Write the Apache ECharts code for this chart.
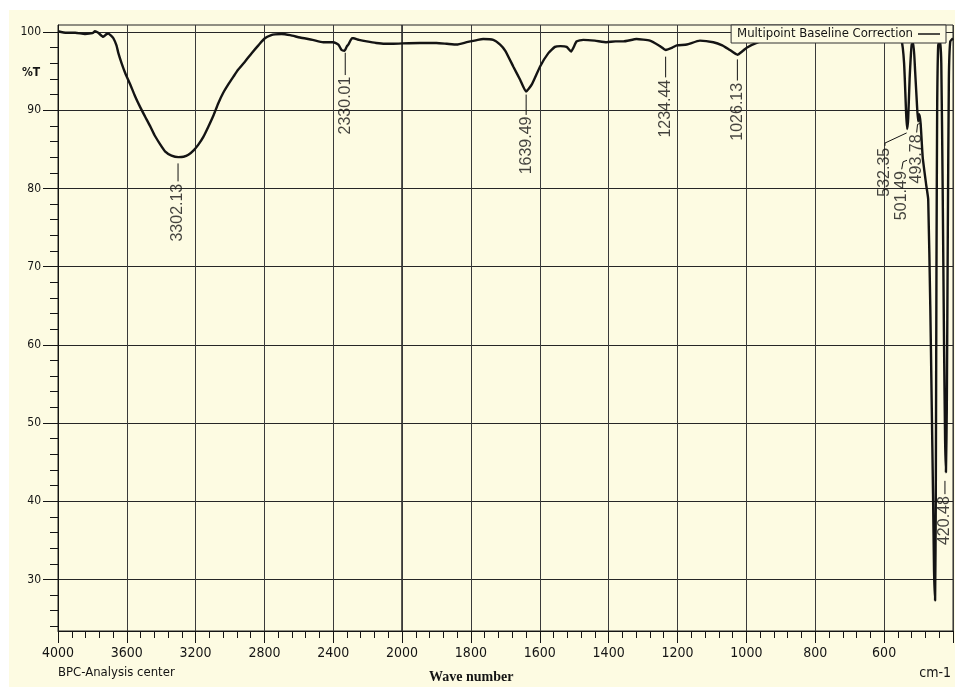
<!DOCTYPE html>
<html>
<head>
<meta charset="utf-8">
<title>FTIR spectrum</title>
<script src="https://cdn.jsdelivr.net/npm/echarts@6/dist/echarts.min.js"></script>
<style>
	html, body { margin: 0; padding: 0; background: #fff; }
	#chart { position: absolute; left: 9px; top: 10px; width: 946px; height: 677px; background: #fdfbe2; }
</style>
</head>
<body>
<div id="chart"></div>
<script>
	// wave number (cm-1), descending
	const waveNumbers = [
		4000, 3950, 3900, 3843, 3800, 3785, 3766, 3737, 3720, 3708, 3690, 3678, 3660, 3649, 3630, 3610,
		3580, 3552, 3520, 3494, 3465, 3436, 3405, 3378, 3340, 3300, 3270, 3242, 3210, 3184, 3155, 3126,
		3095, 3068, 3040, 3010, 2980, 2952, 2910, 2874, 2835, 2797, 2760, 2738, 2700, 2650, 2593, 2520,
		2458, 2400, 2370, 2351, 2335, 2320, 2312, 2290, 2283, 2250, 2205, 2150, 2100, 2050, 2000,
		1948, 1900, 1870, 1841, 1812, 1780, 1764, 1735, 1715, 1700, 1677, 1657, 1640, 1623, 1599, 1575,
		1556, 1540, 1522, 1509, 1493, 1474, 1440, 1406, 1380, 1357, 1319, 1280, 1251, 1234, 1215, 1202,
		1173, 1135, 1096, 1070, 1048, 1026, 1010, 999, 965, 940, 900, 800, 700, 620, 570, 550,
		542, 536, 533, 530, 526, 520, 515, 510, 505, 501.5, 498, 494, 488, 478, 472, 466,
		462, 458, 455, 452, 450, 448, 446, 443, 438, 434, 430, 426, 423, 420.5, 418, 415,
		412, 408, 400
	]
	// %T
	const transmittance = [
		100.1, 99.9, 99.9, 99.75, 99.85, 100.1, 99.9, 99.4, 99.7, 99.8, 99.5, 99.2, 98.3, 97.3, 96.0, 94.8,
		93.3, 91.8, 90.3, 89.2, 88.0, 86.7, 85.6, 84.75, 84.2, 84.0, 84.05, 84.3, 84.9, 85.6, 86.6, 87.9,
		89.4, 90.9, 92.2, 93.3, 94.3, 95.2, 96.3, 97.3, 98.3, 99.2, 99.6, 99.7, 99.75, 99.6, 99.3, 99.0,
		98.7, 98.7, 98.4, 97.7, 97.6, 98.2, 98.4, 99.2, 99.2, 99.0, 98.8, 98.6, 98.5, 98.5, 98.55,
		98.6, 98.6, 98.5, 98.4, 98.7, 99.0, 99.1, 99.0, 98.4, 97.6, 95.6, 93.9, 92.4, 93.3, 95.6, 97.3,
		98.1, 98.2, 98.1, 97.5, 98.8, 99.0, 98.9, 98.7, 98.8, 98.8, 99.1, 98.9, 98.2, 97.7, 98.0, 98.3,
		98.4, 98.9, 98.7, 98.3, 97.7, 97.1, 97.6, 98.0, 98.7, 99.0, 99.3, 99.6, 99.7, 99.7, 99.5, 99.0,
		96.0, 89.5, 87.6, 89.0, 94.0, 98.4, 98.6, 95.0, 91.0, 88.6, 89.5, 88.3, 84.0, 80.5, 78.6, 65.0,
		53.0, 41.0, 31.0, 27.3, 40.0, 70.0, 90.0, 98.3, 99.0, 96.0, 80.0, 60.0, 48.0, 43.7, 52.0, 75.0,
		94.0, 98.8, 99.2
	]

	// peak annotations: text, where the text sits, leader line points
	const peakNames = ['3302.13', '2330.01', '1639.49', '1234.44', '1026.13', '532.35', '501.49', '493.78', '420.48']
	const labelWave = [3302.13, 2330.01, 1639.49, 1234.44, 1026.13, 597.6, 549.0, 505.5, 423.4]
	const labelTop = [80.6, 94.3, 89.2, 93.9, 93.5, 85.2, 82.2, 86.9, 40.65]
	const leaderPoints = [
		[[3302.13, 83.2], [3302.13, 80.9]],
		[[2330.01, 97.35], [2330.01, 94.5]],
		[[1639.49, 92.0], [1639.49, 89.4]],
		[[1234.44, 96.85], [1234.44, 94.2]],
		[[1026.13, 96.5], [1026.13, 93.8]],
		[[534.6, 87.1], [597.6, 85.8], [597.6, 85.45]],
		[[549.0, 82.45], [545.0, 83.4], [533.5, 83.6]],
		[[505.5, 87.15], [503.0, 88.2], [496.0, 88.3]],
		[[423.4, 42.6], [423.4, 40.9]]
	]

	const yLabels = [30, 40, 50, 60, 70, 80, 90, 100]
	const yMinorTicks = [24, 26, 28, 32, 34, 36, 38, 42, 44, 46, 48, 52, 54, 56, 58, 62, 64, 66, 68, 72, 74, 76, 78, 82, 84, 86, 88, 92, 94, 96, 98]

	const seriesName = 'Multipoint Baseline Correction'
	const narrow = '"Liberation Sans Narrow", "Arial Narrow", "DejaVu Sans Condensed", sans-serif'
	const ink = '#141414'
	const gridColor = '#3a3a3a'

	// the instrument plots 4000-2000 at half the density of 2000-400, so two grids side by side
	const points = waveNumbers.map((w, i) => [w, transmittance[i]])
	const highPart = points.filter(p => p[0] >= 2000)
	const lowPart = points.filter(p => p[0] <= 2000)

	function peakGroup(test) {
		const idx = peakNames.map((n, i) => i).filter(i => test(parseFloat(peakNames[i])))
		return {
			labels: idx.map(i => ({ value: [labelWave[i], labelTop[i]], name: peakNames[i] })),
			leaders: idx.map(i => ({ coords: leaderPoints[i] }))
		}
	}
	const highPeaks = peakGroup(w => w >= 2000)
	const lowPeaks = peakGroup(w => w < 2000)

	function xAxisFor(grid, min, max, interval, showEnds) {
		return {
			gridIndex: grid,
			type: 'value',
			inverse: true,
			min: min,
			max: max,
			interval: interval,
			axisLine: { show: true, onZero: false, lineStyle: { color: ink, width: 1 } },
			axisTick: { show: true, inside: false, length: 12, lineStyle: { color: ink } },
			minorTick: { show: true, splitNumber: 5, length: 7, lineStyle: { color: ink } },
			axisLabel: {
				margin: 15, fontSize: 14, fontFamily: narrow, color: ink,
				showMinLabel: showEnds, showMaxLabel: showEnds,
				formatter: v => String(v)
			},
			splitLine: { show: true, lineStyle: { color: gridColor, width: 1 } }
		}
	}

	const yBase = { type: 'value', min: 23.4, max: 100.9, splitNumber: 8 }

	const chart = echarts.init(document.getElementById('chart'), null, { renderer: 'canvas' })
	chart.setOption({
		backgroundColor: 'transparent',
		animation: false,
		legend: {
			data: [seriesName],
			right: 9,
			top: 15,
			align: 'right',
			icon: 'rect',
			itemWidth: 22,
			itemHeight: 1.5,
			padding: [2, 6, 2, 6],
			borderColor: '#333',
			borderWidth: 1,
			borderRadius: 0,
			backgroundColor: '#fdfbe2',
			textStyle: { fontSize: 13, fontFamily: narrow, color: ink, lineHeight: 14 }
		},
		grid: [
			{ left: 49, top: 15, width: 344, height: 606, show: true, borderColor: '#222', borderWidth: 1, backgroundColor: 'transparent' },
			{ left: 393, top: 15, width: 551, height: 606, show: true, borderColor: '#222', borderWidth: 1, backgroundColor: 'transparent' }
		],
		xAxis: [
			xAxisFor(0, 2000, 4000, 400, true),
			xAxisFor(1, 400, 2000, 200, false)
		],
		yAxis: [
			Object.assign({}, yBase, {
				gridIndex: 0,
				position: 'left',
				axisLine: { show: true, lineStyle: { color: ink } },
				axisTick: { show: true, length: 15, customValues: yLabels, lineStyle: { color: ink } },
				axisLabel: { margin: 17, fontSize: 12, fontFamily: narrow, color: ink, customValues: yLabels },
				splitLine: { show: true, lineStyle: { color: '#262626', width: 1 } }
			}),
			Object.assign({}, yBase, {
				gridIndex: 0,
				position: 'left',
				offset: 0,
				axisLine: { show: false },
				axisTick: { show: true, length: 8, customValues: yMinorTicks, lineStyle: { color: ink } },
				axisLabel: { show: false },
				splitLine: { show: false }
			}),
			Object.assign({}, yBase, {
				gridIndex: 1,
				position: 'left',
				axisLine: { show: false },
				axisTick: { show: false, customValues: yLabels },
				axisLabel: { show: false },
				splitLine: { show: true, lineStyle: { color: '#262626', width: 1 } }
			})
		],
		graphic: [
			{ type: 'text', left: 13, top: 57, style: { text: '%T', fontSize: 12, fontWeight: 'bold', fontFamily: narrow, fill: ink } },
			{ type: 'text', left: 49, top: 656, style: { text: 'BPC-Analysis center', fontSize: 13, fontFamily: narrow, fill: ink } },
			{ type: 'text', left: 420, top: 660, style: { text: 'Wave number', fontSize: 14, fontWeight: 'bold', fontFamily: '"Liberation Serif", "DejaVu Serif", serif', fill: ink } },
			{ type: 'text', right: 4, top: 656, style: { text: 'cm-1', fontSize: 14, fontFamily: narrow, fill: ink } }
		],
		series: [
			{
				name: seriesName, type: 'line', xAxisIndex: 0, yAxisIndex: 0,
				data: highPart, showSymbol: false, symbol: 'none', smooth: 0.2,
				lineStyle: { color: ink, width: 2.4 }, itemStyle: { color: ink }
			},
			{
				name: seriesName, type: 'line', xAxisIndex: 1, yAxisIndex: 2,
				data: lowPart, showSymbol: false, symbol: 'none', smooth: 0.15,
				lineStyle: { color: ink, width: 2.4 }, itemStyle: { color: ink }
			},
			{
				name: 'leaders-high', type: 'lines', coordinateSystem: 'cartesian2d', xAxisIndex: 0, yAxisIndex: 0,
				polyline: true, data: highPeaks.leaders, lineStyle: { color: ink, width: 1, opacity: 1 }
			},
			{
				name: 'leaders-low', type: 'lines', coordinateSystem: 'cartesian2d', xAxisIndex: 1, yAxisIndex: 2,
				polyline: true, data: lowPeaks.leaders, lineStyle: { color: ink, width: 1, opacity: 1 }
			},
			{
				name: 'peaks-high', type: 'scatter', xAxisIndex: 0, yAxisIndex: 0,
				data: highPeaks.labels, symbolSize: 0,
				label: {
					show: true, position: 'inside', rotate: 90, align: 'right', verticalAlign: 'middle',
					formatter: p => p.name, fontSize: 16, fontFamily: '"Liberation Sans", Arial, sans-serif', color: ink
				}
			},
			{
				name: 'peaks-low', type: 'scatter', xAxisIndex: 1, yAxisIndex: 2,
				data: lowPeaks.labels, symbolSize: 0,
				label: {
					show: true, position: 'inside', rotate: 90, align: 'right', verticalAlign: 'middle',
					formatter: p => p.name, fontSize: 16, fontFamily: '"Liberation Sans", Arial, sans-serif', color: ink
				}
			}
		]
	})
</script>
</body>
</html>
